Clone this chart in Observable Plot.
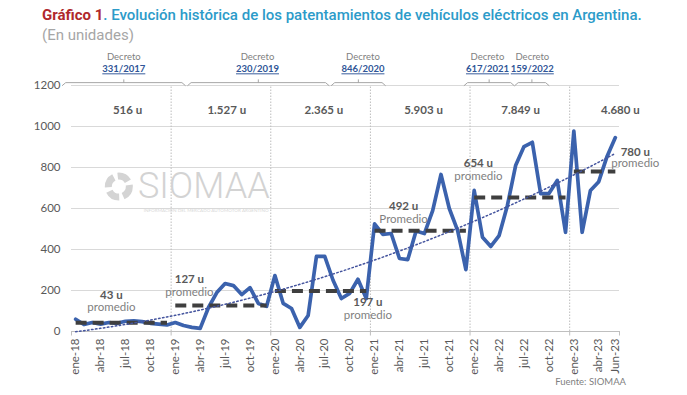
<!DOCTYPE html>
<html><head><meta charset="utf-8">
<script src="https://cdn.jsdelivr.net/npm/d3@7"></script>
<script src="https://cdn.jsdelivr.net/npm/@observablehq/plot@0.6"></script>
<style>
body{margin:0;background:#fff;width:687px;height:395px;overflow:hidden;font-family:Roboto,sans-serif;position:relative}
#title{position:absolute;left:42px;top:6px;font-size:15px;font-weight:500;color:#2C9BC9;white-space:nowrap;letter-spacing:0px}
#title b{color:#B0282C;font-weight:700}
#sub{position:absolute;left:42px;top:26px;font-size:15px;color:#A6A6A6}
#chart{position:absolute;left:0;top:44px}
#src{position:absolute;right:61px;top:376px;font-size:9.5px;color:#7f7f7f;font-family:Lato,sans-serif}
</style></head>
<body>
<div id="title"><b>Gráfico 1</b>. Evolución histórica de los patentamientos de vehículos eléctricos en Argentina.</div>
<div id="sub">(En unidades)</div>
<div id="chart"></div>
<div id="src">Fuente: SIOMAA</div>
<script>
// ---- data ----
const years = [2018, 2019, 2020, 2021, 2022, 2023];
const v2018 = [60, 34, 44, 36, 44, 40, 50, 52, 48, 40, 36, 32];
const v2019 = [44, 29, 20, 15, 117, 190, 234, 224, 180, 214, 137, 123];
const v2020 = [273, 137, 112, 20, 78, 366, 366, 250, 161, 186, 255, 161];
const v2021 = [525, 474, 478, 356, 351, 490, 478, 590, 766, 600, 493, 302];
const v2022 = [688, 460, 415, 468, 615, 811, 902, 923, 673, 673, 737, 484];
const v2023 = [977, 484, 688, 731, 854, 946];
const values = [v2018, v2019, v2020, v2021, v2022, v2023];
const averages = [43, 127, 197, 492, 654, 780];
const avgLabels = ["43 u", "127 u", "197 u", "492 u", "654 u", "780 u"];
const avgWords = ["promedio", "promedio", "promedio", "Promedio", "promedio", "promedio"];
const totals = ["516 u", "1.527 u", "2.365 u", "5.903 u", "7.849 u", "4.680 u"];
const tickIdx = [0,3,6,9,12,15,18,21,24,27,30,33,36,39,42,45,48,51,54,57,60,63,65];
const tickLabels = ["ene-18","abr-18","jul-18","oct-18","ene-19","abr-19","jul-19","oct-19",
  "ene-20","abr-20","jul-20","oct-20","ene-21","abr-21","jul-21","oct-21",
  "ene-22","abr-22","jul-22","oct-22","ene-23","abr-23","Jun-23"];
const yTicks = [0, 200, 400, 600, 800, 1000, 1200];
const decreeNums = ["331/2017", "230/2019", "846/2020", "617/2021", "159/2022"];
const decreeStart = [-1.6, 13.5, 30.8, 46.8, 52.9];   // period start (month index)
const decreeEnd = [13.2, 30.5, 37.3, 52.8, 57.0];     // period end (month index)

// ---- annotation placement (month index / value units) ----
const totalPos = [6.25, 18.2, 29.9, 41.9, 53.6, 65.6];
const avgLabelPos = [[4.3, 176, 117], [13.7, 254, 192], [35.2, 140, 78], [39.5, 610, 546], [48.5, 818, 756], [67.4, 875, 819]];
const decreeTextPos = [5.8, 21.9, 34.6, 49.6, 55.0];

// ---- derived tables ----
const series = [];
values.forEach((arr, i) => arr.forEach((v, j) => series.push({m: i * 12 + j, v})));
const avgSegs = values.map((arr, i) => ({x1: i * 12, x2: i * 12 + arr.length - 1, y: averages[i]}));

// quadratic least-squares trend (polynomial order 2)
function fit2(pts) {
  let n = 0, s1 = 0, s2 = 0, s3 = 0, s4 = 0, t0 = 0, t1 = 0, t2 = 0;
  for (const {m: x, v: y} of pts) { n++; s1 += x; s2 += x*x; s3 += x**3; s4 += x**4; t0 += y; t1 += x*y; t2 += x*x*y; }
  const M = [[n, s1, s2], [s1, s2, s3], [s2, s3, s4]], B = [t0, t1, t2];
  const det = a => a[0][0]*(a[1][1]*a[2][2]-a[1][2]*a[2][1]) - a[0][1]*(a[1][0]*a[2][2]-a[1][2]*a[2][0]) + a[0][2]*(a[1][0]*a[2][1]-a[1][1]*a[2][0]);
  const D = det(M);
  const col = k => M.map((r, i) => r.map((c, j) => j === k ? B[i] : c));
  return [det(col(0)) / D, det(col(1)) / D, det(col(2)) / D];
}
const [a0, a1, a2] = fit2(series);
const trend = series.map(d => ({m: d.m, v: a0 + a1 * d.m + a2 * d.m * d.m}));

const yearBounds = [11.5, 23.5, 35.5, 47.5, 59.5];
const tickBounds = [-0.5, 11.5, 23.5, 35.5, 47.5, 59.5, 65.5];

const brackets = [];
decreeNums.forEach((d, i) => {
  const s = decreeStart[i], e = decreeEnd[i], mid = (s + e) / 2;
  brackets.push({d, part: "a", m: s, v: 1200}, {d, part: "a", m: s + 0.4, v: 1214}, {d, part: "a", m: e - 0.4, v: 1214}, {d, part: "a", m: e, v: 1200});
  brackets.push({d, part: "b", m: mid, v: 1214}, {d, part: "b", m: mid, v: 1228});
});
const decreeRows = decreeNums.map((d, i) => ({d, m: decreeTextPos[i]}));

const avgRows = avgLabels.map((t, i) => ({t, w: avgWords[i], m: avgLabelPos[i][0], y1: avgLabelPos[i][1], y2: avgLabelPos[i][2]}));
const totalRows = totals.map((t, i) => ({t, m: totalPos[i]}));
const lab = new Map(tickIdx.map((t, i) => [t, tickLabels[i]]));

const F = "Lato, sans-serif";
const plot = Plot.plot({
  width: 687, height: 351,
  marginLeft: 71, marginRight: 68, marginTop: 41, marginBottom: 64,
  style: {color: "#595959", fontFamily: F, background: "transparent"},
  x: {domain: [-0.5, 65.5]},
  y: {domain: [0, 1200]},
  marks: [
    Plot.ruleY(yTicks.slice(1), {stroke: "#d9d9d9", strokeWidth: 1}),
    Plot.ruleX(yearBounds, {y1: 0, y2: 1200, stroke: "#bdbdbd", strokeDasharray: "1.5,1.5"}),
    Plot.ruleY([0], {stroke: "#bfbfbf"}),
    Plot.ruleX(tickBounds, {y1: 0, y2: -22, stroke: "#bfbfbf"}),
    // watermark
    Plot.dot([{m: 5.2, v: 707}], {x: "m", y: "v", r: 10.5, stroke: "#d4d4d4", strokeWidth: 7, fill: "none", strokeDasharray: "12,4"}),
    Plot.text([{m: 7.5, v: 707}], {x: "m", y: "v", text: () => "SIOMAA", textAnchor: "start", fontSize: 36, fontWeight: 300, fill: "#d3d3d3", fontFamily: "Roboto, sans-serif"}),
    Plot.text([{m: 8.2, v: 588}], {x: "m", y: "v", text: () => "INFORMACIÓN DEL MERCADO AUTOMOTOR ARGENTINO", textAnchor: "start", fontSize: 4.6, fill: "#d8d8d8"}),
    // data line
    Plot.line(series, {x: "m", y: "v", stroke: "#3B62AD", strokeWidth: 3.7, strokeLinejoin: "round"}),
    // averages
    Plot.link(avgSegs, {x1: "x1", x2: "x2", y1: "y", y2: "y", stroke: "#3f3f3f", strokeWidth: 4, strokeDasharray: "11,6"}),
    // trend
    Plot.line(trend, {x: "m", y: "v", stroke: "#44549e", strokeWidth: 1.5, strokeDasharray: "1.5,2.5", curve: "natural"}),
    // totals
    Plot.text(totalRows, {x: "m", y: () => 1078, text: "t", fontSize: 11.5, fontWeight: "bold", fill: "#595959"}),
    // average labels
    Plot.text(avgRows, {x: "m", y: "y1", text: "t", fontSize: 11.5, fontWeight: "bold", fill: "#595959"}),
    Plot.text(avgRows, {x: "m", y: "y2", text: "w", fontSize: 11.5, fill: "#7f7f7f"}),
    // decrees
    Plot.line(brackets, {x: "m", y: "v", z: d => d.d + d.part, stroke: "#a6a6a6", strokeWidth: 1}),
    Plot.text(decreeRows, {x: "m", y: () => 1337, text: () => "Decreto", fontSize: 9.5, fill: "#7f7f7f"}),
    Plot.text(decreeRows, {x: "m", y: () => 1279, text: "d", fontSize: 9.5, fontWeight: "bold", fill: "#2F5597"}),
    // axes
    Plot.axisY({ticks: yTicks, tickFormat: d => String(d), tickSize: 0, tickPadding: 11, fontSize: 11.5}),
    Plot.axisX({ticks: tickIdx, tickFormat: t => lab.get(t), tickRotate: -90, tickSize: 0, tickPadding: 7, fontSize: 11.5})
  ]
});
plot.querySelectorAll("text").forEach(t => { if (/^\d{3}\/\d{4}$/.test(t.textContent)) t.style.textDecoration = "underline"; });
document.getElementById("chart").appendChild(plot);
</script>
</body></html>
